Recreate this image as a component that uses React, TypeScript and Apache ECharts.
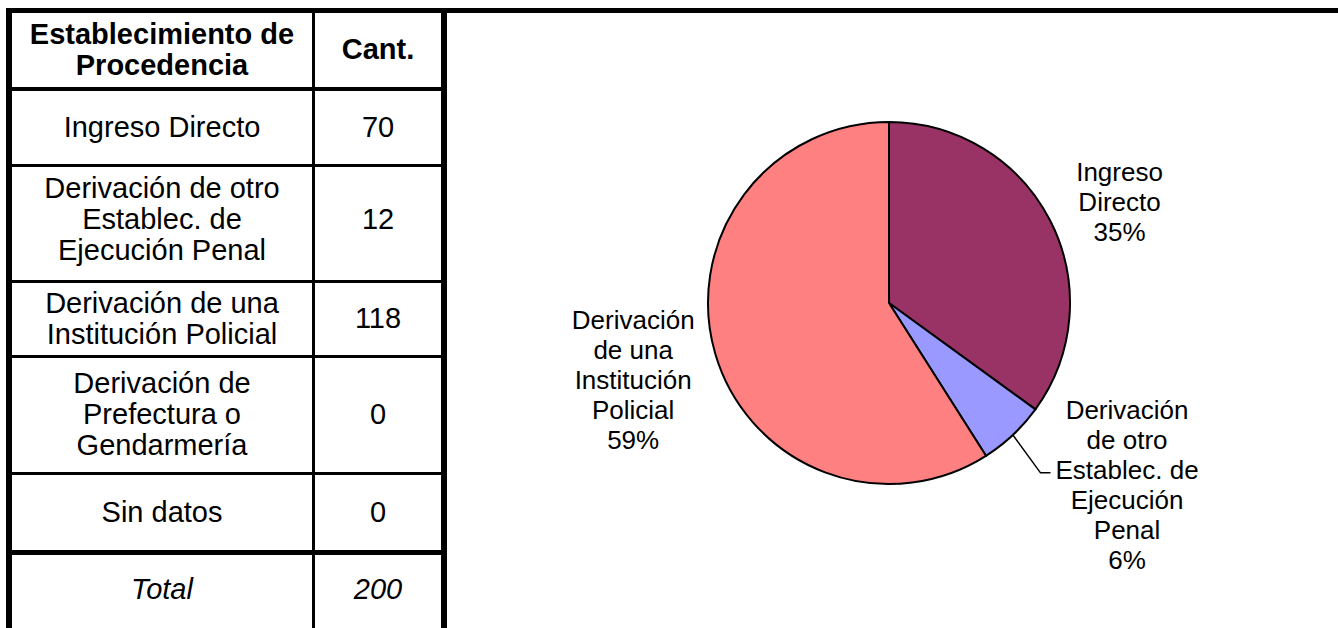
import React, { useEffect, useRef } from "react";
import * as echarts from "echarts";

// ---------- data ----------
const headerLabels = ["Establecimiento de\nProcedencia", "Cant."];
const categories = [
  "Ingreso Directo",
  "Derivación de otro\nEstablec. de\nEjecución Penal",
  "Derivación de una\nInstitución Policial",
  "Derivación de\nPrefectura o\nGendarmería",
  "Sin datos",
];
const values = [70, 12, 118, 0, 0];
const totalLabel = "Total";
const totalValue = 200;
const pieLabels = [
  "Ingreso\nDirecto",
  "Derivación\nde otro\nEstablec. de\nEjecución\nPenal",
  "Derivación\nde una\nInstitución\nPolicial",
  "Derivación de\nPrefectura o\nGendarmería",
  "Sin datos",
];
const sliceColors = ["#993366", "#9999FF", "#FF8080", "#FFFFCC", "#CCFFFF"];

// ---------- layout / style ----------
const FONT = "'Liberation Sans', Arial, sans-serif";
const tableFont = 29;
const tableLH = 31;
const colLeft = 6, colLeftW = 6;
const colMid = 312, colMidW = 3;
const colRight = 441, colRightW = 6;
const topY = 8, topH = 5;
// horizontal separators: [y, thickness]
const hLines: [number, number][] = [
  [87, 4],
  [164, 3],
  [280, 3],
  [355, 3],
  [472, 3],
  [550, 5],
];
// vertical text centers: header, rows..., total
const rowCenters = [49, 127, 219, 318, 414, 512, 589];
const col1X = 162;
const col2X = 378;

// label offsets relative to default pie label layout [dx, dy]
const labelOffsets: [number, number][] = [
  [2, -14],
  [-3, 12],
  [4, 24],
];
const labelLineSettings = [
  { show: false, length: 10, length2: 10 },
  { show: true, length: 52, length2: 5 },
  { show: false, length: 10, length2: 10 },
];
const leaderGap = 5;
const leaderHoriz = 10;

function buildTableGraphics() {
  const els: any[] = [];
  const H = 628;
  els.push({ type: "rect", shape: { x: colLeft, y: topY, width: 1338 - colLeft, height: topH }, style: { fill: "#000" } });
  els.push({ type: "rect", shape: { x: colLeft, y: topY, width: colLeftW, height: H - topY }, style: { fill: "#000" } });
  els.push({ type: "rect", shape: { x: colMid, y: topY, width: colMidW, height: H - topY }, style: { fill: "#000" } });
  els.push({ type: "rect", shape: { x: colRight, y: topY, width: colRightW, height: H - topY }, style: { fill: "#000" } });
  hLines.forEach(([y, h]) => {
    els.push({ type: "rect", shape: { x: colLeft, y, width: colRight + colRightW - colLeft, height: h }, style: { fill: "#000" } });
  });
  const txt = (text: string, x: number, y: number, extra: any = {}) => ({
    type: "text",
    x,
    y,
    style: {
      text,
      fill: "#000",
      fontFamily: FONT,
      fontSize: tableFont,
      lineHeight: tableLH,
      align: "center",
      verticalAlign: "middle",
      ...extra,
    },
  });
  els.push(txt(headerLabels[0], col1X, rowCenters[0], { fontWeight: "bold" }));
  els.push(txt(headerLabels[1], col2X, rowCenters[0], { fontWeight: "bold" }));
  categories.forEach((c, i) => {
    els.push(txt(c, col1X, rowCenters[i + 1]));
    els.push(txt(String(values[i]), col2X, rowCenters[i + 1]));
  });
  els.push(txt(totalLabel, col1X, rowCenters[6], { fontStyle: "italic" }));
  els.push(txt(String(totalValue), col2X, rowCenters[6], { fontStyle: "italic" }));
  return els;
}

export default function App() {
  const ref = useRef<HTMLDivElement>(null);
  useEffect(() => {
    document.body.style.margin = "0";
    if (!ref.current) return;
    const chart = echarts.init(ref.current, null, { renderer: "svg" });
    const pieData = values
      .map((v, i) => ({
        name: pieLabels[i],
        value: v,
        itemStyle: { color: sliceColors[i] },
        labelLine: labelLineSettings[i] || { show: false },
      }))
      .filter((d) => d.value > 0);
    chart.setOption({
      animation: false,
      backgroundColor: "#fff",
      graphic: { elements: buildTableGraphics() },
      series: [
        {
          type: "pie",
          center: [889, 303],
          radius: 181,
          startAngle: 90,
          clockwise: true,
          avoidLabelOverlap: false,
          data: pieData,
          itemStyle: { borderColor: "#000", borderWidth: 2 },
          label: {
            show: true,
            position: "outside",
            color: "#000",
            fontFamily: FONT,
            fontSize: 26,
            lineHeight: 30,
            formatter: (p: any) => p.name + "\n" + Math.round(p.percent) + "%",
          },
          labelLine: {
            lineStyle: { color: "#000", width: 1.5 },
            length: 10,
            length2: 10,
          },
          emphasis: { disabled: true },
          labelLayout: (params: any) => {
            const r = params.labelRect;
            const off = labelOffsets[params.dataIndex] || [0, 0];
            const cx = r.x + r.width / 2 + off[0];
            const cy = r.y + r.height / 2 + off[1];
            const res: any = { x: cx, y: cy, align: "center", verticalAlign: "middle" };
            const pts = params.labelLinePoints;
            if (pts && pts.length === 3) {
              const left = cx - r.width / 2;
              const ly = pts[2][1];
              const end = [left - leaderGap, ly];
              const bend = [end[0] - leaderHoriz, ly];
              res.labelLinePoints = [pts[0], bend, end];
            }
            return res;
          },
        },
      ],
    });
    return () => chart.dispose();
  }, []);
  return (
    <div
      ref={ref}
      style={{ position: "fixed", left: 0, top: 0, width: 1338, height: 628, background: "#fff" }}
    />
  );
}
